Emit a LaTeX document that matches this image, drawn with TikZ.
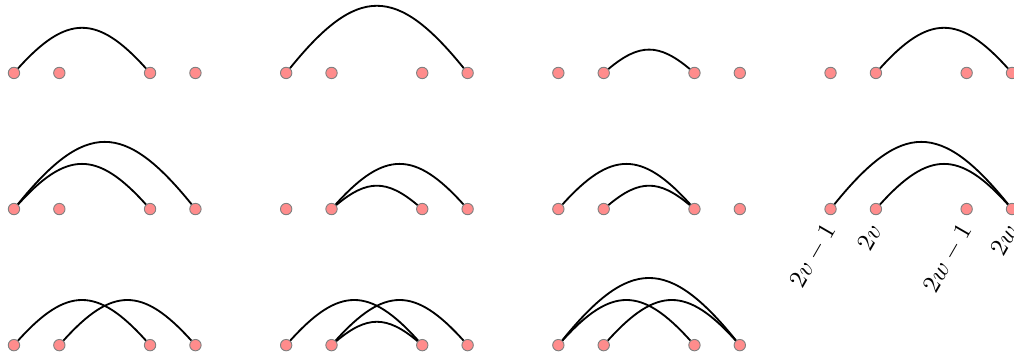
\documentclass[tikz,border=0pt]{standalone}
\usepackage{amsmath}
\usepackage{tikz}
\usetikzlibrary{positioning}

\begin{document}
\begin{tikzpicture}[
        x=0.7cm, y=0.7cm,
        dot/.style={circle, draw=gray, fill=red!45, minimum size=5pt, inner sep=0pt},
        arcS/.style={thick, out=40, in=140, looseness=1.27},
        arcM/.style={thick, out=48, in=132, looseness=1.46},
        arcL/.style={thick, out=51, in=129, looseness=1.58},
        lbl/.style={rotate=60, anchor=east, inner sep=0pt, font=\fontsize{11.3}{13.5}\selectfont}
    ]
        \useasboundingbox (-0.308,-6.264) rectangle (22.044,1.608);
        \foreach \r/\gs in {1/{1,2,3,4}, 2/{1,2,3,4}, 3/{1,2,3}}
            \foreach \g in \gs
                \foreach \i/\x in {1/0, 2/1, 3/3, 4/4}
                    \node[dot] (p\r\g\i) at ({6*(\g-1)+\x}, {-3*(\r-1)}) {};
        % row 1
        \draw[arcM] (p111) to (p113);
        \draw[arcL] (p121) to (p124);
        \draw[arcS] (p132) to (p133);
        \draw[arcM] (p142) to (p144);
        % row 2
        \draw[arcM] (p211) to (p213);
        \draw[arcL] (p211) to (p214);
        \draw[arcS] (p222) to (p223);
        \draw[arcM] (p222) to (p224);
        \draw[arcM] (p231) to (p233);
        \draw[arcS] (p232) to (p233);
        \draw[arcL] (p241) to (p244);
        \draw[arcM] (p242) to (p244);
        % row 3
        \draw[arcM] (p311) to (p313);
        \draw[arcM] (p312) to (p314);
        \draw[arcM] (p321) to (p323);
        \draw[arcS] (p322) to (p323);
        \draw[arcM] (p322) to (p324);
        \draw[arcM] (p331) to (p333);
        \draw[arcM] (p332) to (p334);
        \draw[arcL] (p331) to (p334);
        % labels
        \node[below=0.17cm of p241, lbl] (l1) {$2v-1$};
        \node[below=0.17cm of p242, lbl] (l2) {$2v$};
        \node[below=0.17cm of p243, lbl] (l3) {$2w-1$};
        \node[below=0.17cm of p244, lbl] (l4) {$2w$};
    \end{tikzpicture}
\end{document}
